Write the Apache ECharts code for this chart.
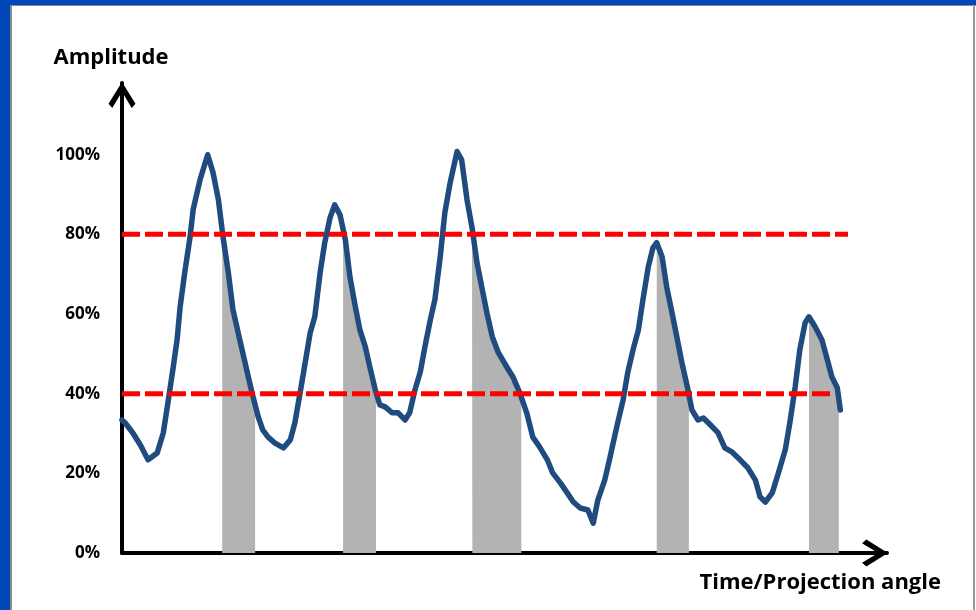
<!DOCTYPE html>
<html><head><meta charset="utf-8">
<script src="https://cdn.jsdelivr.net/npm/echarts@6/dist/echarts.min.js"></script>
<style>
html,body{margin:0;padding:0;background:#fff;}
#frame{position:absolute;left:0;top:0;width:976px;height:610px;overflow:hidden;}
.b{position:absolute;}
#chart{position:absolute;left:0;top:0;width:976px;height:610px;}
</style></head><body>
<div id="frame">
<div class="b" style="left:0;top:0;width:976px;height:5px;background:#0047BA"></div>
<div class="b" style="left:0;top:0;width:10px;height:610px;background:#0047BA"></div>
<div class="b" style="left:10px;top:5px;width:966px;height:1px;background:#8a8a8a"></div>
<div class="b" style="left:10px;top:5px;width:2px;height:605px;background:#8a8a8a"></div>
<div class="b" style="left:973px;top:5px;width:2px;height:605px;background:#9a9a9a"></div>
</div>
<div id="chart"></div>
<script>
// Time / projection angle (arbitrary units, 0..100 along the axis)
const timeValues = [
  0, 0.4, 1.4, 2.4, 3.4, 4.6, 5.4, 6.0, 6.7, 7.2, 7.6, 8.2, 8.9, 9.3, 10.2, 11.2, 11.9, 12.6, 13.2, 13.9,
  14.5, 15.4, 16.3, 17.0, 17.8, 18.4, 19.1, 20.0, 21.1, 22.0, 22.6, 23.5, 24.6, 25.2, 25.9, 26.5, 27.2, 27.8,
  28.5, 29.2, 29.8, 30.5, 31.1, 31.8, 32.4, 33.1, 33.7, 34.4, 35.3, 36.1, 37.0, 37.6, 38.3, 39.0, 39.6, 40.3,
  40.9, 41.6, 42.2, 42.9, 43.8, 44.4, 45.1, 45.8, 46.4, 47.1, 47.7, 48.4, 49.2, 50.3, 51.1, 52.0, 52.9, 53.7,
  54.6, 55.6, 56.3, 57.3, 58.2, 59.0, 59.9, 60.9, 61.6, 62.2, 63.1, 63.8, 64.2, 64.8, 65.5, 66.1, 66.8, 67.5,
  68.1, 68.8, 69.4, 69.9, 70.6, 71.2, 71.9, 72.6, 73.2, 73.9, 74.5, 75.3, 76.0, 76.9, 77.9, 78.8, 79.7, 80.8,
  81.8, 82.8, 83.4, 84.1, 85.0, 85.8, 86.7, 87.3, 88.0, 88.6, 89.3, 89.8, 90.6, 91.5, 92.2, 92.8, 93.5, 93.9
];
// Amplitude in percent
const amplitudeValues = [
  33.4, 32.7, 30.2, 27.1, 23.4, 25.1, 30.2, 37.7, 46.7, 53.5, 61.8, 70.4, 79.4, 86.2, 93.7, 100.0, 95.5, 88.7, 79.4, 70.4,
  61.1, 53.5, 46.0, 40.2, 34.2, 30.9, 29.1, 27.6, 26.4, 28.4, 32.7, 42.7, 55.3, 59.3, 70.4, 77.9, 84.2, 87.4,
  84.9, 78.6, 69.3, 61.8, 56.0, 51.8, 46.7, 41.0, 37.2, 36.7, 35.2, 35.2, 33.4, 35.2, 41.0, 45.5, 51.8, 58.5,
  63.6, 74.4, 85.4, 93.0, 100.8, 98.7, 88.7, 81.2, 72.9, 66.1, 60.3, 54.3, 50.3, 46.7, 44.2, 40.2, 35.2, 29.1,
  26.6, 23.4, 20.1, 17.6, 15.1, 12.8, 11.3, 10.8, 7.5, 13.3, 18.3, 24.1, 27.6, 32.7, 38.4, 45.2, 51.0, 56.0,
  63.6, 71.9, 76.6, 77.9, 74.4, 66.8, 60.3, 53.5, 47.7, 41.7, 35.9, 33.4, 33.9, 32.2, 30.2, 26.4, 25.4, 23.4,
  21.4, 18.3, 14.1, 12.8, 15.1, 20.1, 25.9, 32.7, 41.7, 51.0, 57.8, 59.3, 56.8, 53.5, 48.5, 44.2, 41.5, 35.9
];
// Shaded (gated) windows on the falling edges
const shadeStart = [13.1, 28.9, 45.75, 69.9, 89.8];
const shadeEnd   = [17.4, 33.2, 52.2, 74.1, 93.7];
// Threshold levels (percent) and where their dashed lines end
const thresholdLevels = [80, 40];
const thresholdEnds = [94.9, 93.2];
const yTickLabels = ['0%', '20%', '40%', '60%', '80%', '100%'];

function curveAt(t) {
  for (let i = 1; i < timeValues.length; i++) {
    if (timeValues[i] >= t) {
      const t0 = timeValues[i - 1], t1 = timeValues[i];
      const f = (t - t0) / (t1 - t0);
      return amplitudeValues[i - 1] + f * (amplitudeValues[i] - amplitudeValues[i - 1]);
    }
  }
  return amplitudeValues[amplitudeValues.length - 1];
}

const curveData = timeValues.map((t, i) => [t, amplitudeValues[i]]);

const shadeSeries = shadeStart.map((a, k) => {
  const b = shadeEnd[k];
  const pts = [[a, curveAt(a)]];
  timeValues.forEach((t, i) => { if (t > a && t < b) pts.push([t, amplitudeValues[i]]); });
  pts.push([b, curveAt(b)]);
  return {
    type: 'line', data: pts, symbol: 'none', silent: true, z: 1,
    lineStyle: { width: 0, opacity: 0 },
    areaStyle: { color: '#b3b3b3', opacity: 1 }
  };
});

const thresholdSeries = thresholdLevels.map((lv, k) => ({
  type: 'line', data: [[0, lv], [thresholdEnds[k], lv]], symbol: 'none', silent: true, z: 3,
  lineStyle: { color: '#ff0000', width: 5, type: [18, 5], cap: 'butt' }
}));

const chevron = 'path://M50,0 L100,80 L86,96 L50,36 L14,96 L0,80 Z';
const font = '"Open Sans", "Liberation Sans", sans-serif';

const chart = echarts.init(document.getElementById('chart'), null, { renderer: 'canvas' });
chart.setOption({
  backgroundColor: 'transparent',
  animation: false,
  grid: { left: 122, right: 89, top: 83, bottom: 57, containLabel: false },
  xAxis: {
    type: 'value', min: 0, max: 100,
    name: 'Time/Projection angle', nameLocation: 'end', nameGap: 54,
    nameTextStyle: { fontFamily: font, fontWeight: 'bold', fontSize: 22, color: '#000', align: 'right', verticalAlign: 'top', padding: [19, 0, 0, 0] },
    axisLine: { show: true, onZero: false, lineStyle: { color: '#000', width: 4 }, symbol: ['none', chevron], symbolSize: [27, 26], symbolOffset: [0, -12] },
    axisTick: { show: false }, axisLabel: { show: false }, splitLine: { show: false }
  },
  yAxis: {
    type: 'value', min: 0, max: 118, interval: 20,
    name: 'Amplitude', nameLocation: 'end', nameGap: 14,
    nameTextStyle: { fontFamily: font, fontWeight: 'bold', fontSize: 22, color: '#000', align: 'center', verticalAlign: 'bottom', padding: [0, 22, 0, 0] },
    axisLine: { show: true, onZero: false, lineStyle: { color: '#000', width: 4 }, symbol: ['none', chevron], symbolSize: [27, 26], symbolOffset: [0, -12] },
    axisTick: { show: false }, splitLine: { show: false },
    axisLabel: {
      margin: 22, fontFamily: font, fontWeight: 'bold', fontSize: 17, color: '#000',
      formatter: v => { const i = Math.round(v / 20); return (v <= 100 && Math.abs(v - i * 20) < 1e-6) ? yTickLabels[i] : ''; }
    }
  },
  series: [
    ...shadeSeries,
    { type: 'line', data: curveData, symbol: 'none', silent: true, z: 2,
      lineStyle: { color: '#1F4B7E', width: 5.5, join: 'round', cap: 'round' } },
    ...thresholdSeries
  ]
});
</script>
</body></html>
